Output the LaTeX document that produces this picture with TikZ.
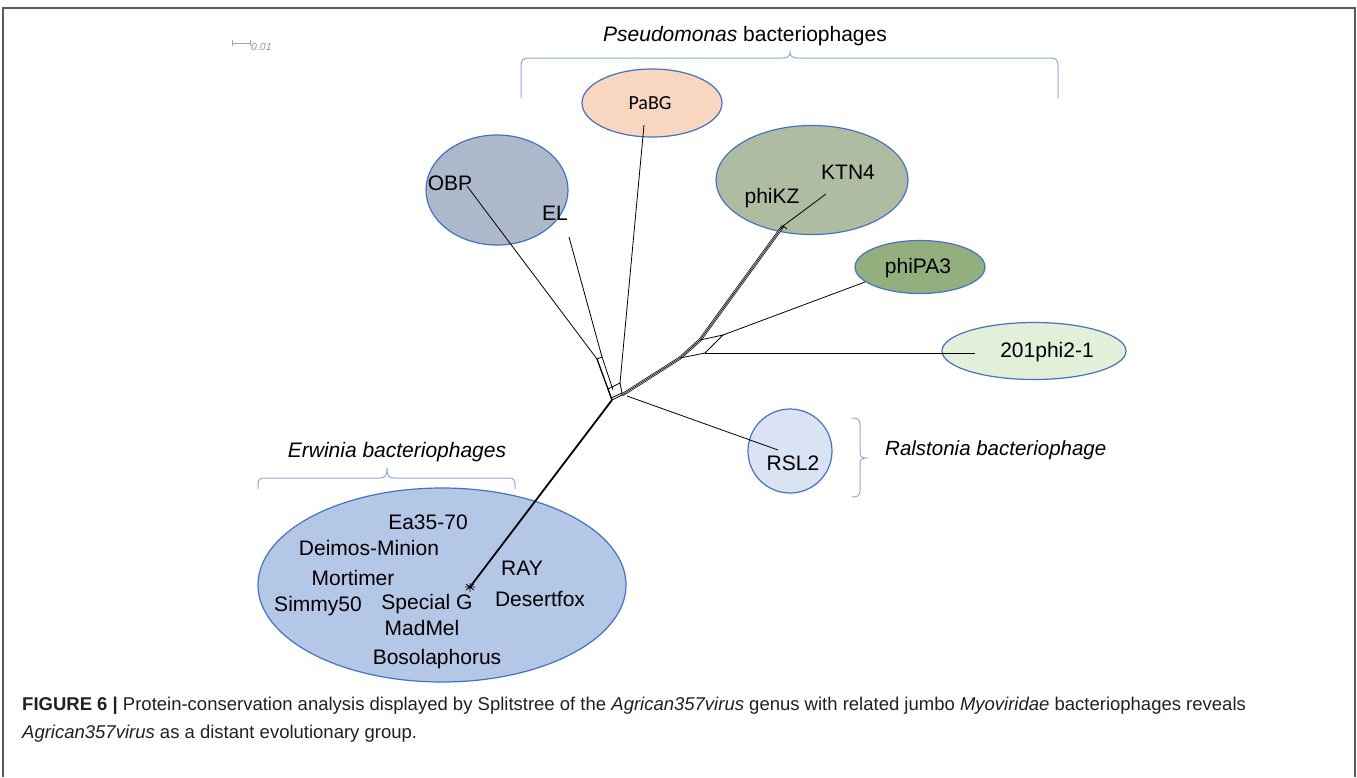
\documentclass[tikz,border=0pt]{standalone}
\usepackage{fontspec}
\setmainfont{Liberation Sans}
\newfontfamily\calib{Carlito}
\usetikzlibrary{shapes.geometric}
\definecolor{edgeblue}{HTML}{4472C4}
\definecolor{brackblue}{HTML}{8FAADC}
\definecolor{pabgfill}{HTML}{F9D6BF}
\definecolor{obpfill}{HTML}{ADB9CA}
\definecolor{ktnfill}{HTML}{B0BCA2}
\definecolor{pa3fill}{HTML}{94AF7E}
\definecolor{phitwofill}{HTML}{E2F0D9}
\definecolor{rslfill}{HTML}{DAE3F3}
\definecolor{erwfill}{HTML}{B4C7E7}
\definecolor{framegray}{HTML}{5A5A5A}
\definecolor{captext}{HTML}{231F20}
\begin{document}
\begin{tikzpicture}[x=1pt,y=-1pt,
  grp/.style={ellipse, draw=edgeblue, line width=1.2pt, inner sep=0pt},
  lab/.style={font=\fontsize{21}{25}\selectfont, inner sep=0pt},
  brk/.style={draw=brackblue, line width=1pt},
  net/.style={line width=0.8pt, black},
  captionline/.style={font=\fontsize{18.5}{22}\selectfont, text=captext, inner sep=0pt, anchor=base west}
]
\useasboundingbox (0,0) rectangle (1357,777);
\fill[white] (0,0) rectangle (1357,777);
% frame
\draw[framegray, line width=1.6pt] (3,777) -- (3,8) -- (1355,8) -- (1355,777);

% scale bar
\draw[gray!70, line width=0.8pt] (232,40) -- (232,46) (232,43) -- (250,43) (250,40) -- (250,46);
\node[font=\fontsize{10.5}{12}\selectfont\itshape, text=gray!80, anchor=west, inner sep=0pt] (scale) at (251,47) {0.01};

% group ellipses
\node[grp, fill=pabgfill, minimum width=140pt, minimum height=68pt] (pabg) at (652,103) {};
\node[grp, fill=obpfill, minimum width=142pt, minimum height=110pt] (obp) at (497,190) {};
\node[grp, fill=ktnfill, minimum width=192pt, minimum height=109pt] (ktn) at (812,180) {};
\node[grp, fill=pa3fill, minimum width=130pt, minimum height=53pt] (pa3) at (920,267) {};
\node[grp, fill=phitwofill, minimum width=184pt, minimum height=57pt] (phitwo) at (1034,351) {};
\node[grp, fill=rslfill, minimum width=84pt, minimum height=84pt] (rsl) at (790,451) {};
\node[grp, fill=erwfill, minimum width=368pt, minimum height=194pt] (erw) at (442,585) {};

% braces
\draw[brk] (521,98) -- (521,66) .. controls (521,60) and (523,58) .. (529,58) -- (782,58)
  .. controls (788,58) and (790,56) .. (790,52) .. controls (790,56) and (792,58) .. (798,58)
  -- (1050,58) .. controls (1056,58) and (1058,60) .. (1058,66) -- (1058,98);
\draw[brk] (258,489) -- (258,484) .. controls (258,480) and (260,478) .. (264,478) -- (380,478)
  .. controls (385,478) and (387,476) .. (387,468) .. controls (387,476) and (389,478) .. (394,478)
  -- (509,478) .. controls (513,478) and (515,480) .. (515,484) -- (515,489);
\draw[brk] (852,418) .. controls (857,418) and (860,419) .. (860,424) -- (860,452)
  .. controls (860,456) and (861,458) .. (866,458) .. controls (861,458) and (860,460) .. (860,464)
  -- (860,491) .. controls (860,496) and (857,497) .. (852,497);

% network coordinates
\coordinate (C) at (612,400);
\coordinate (E) at (470,587);
\coordinate (A1) at (597,359);
\coordinate (A2) at (602,357);
\coordinate (A3) at (613,390);
\coordinate (B1) at (608,389);
\coordinate (B2) at (620,383);
\coordinate (B3) at (622,393);
\coordinate (B4) at (611,398);
\coordinate (T0) at (622,395);
\coordinate (T1) at (783,226);
\coordinate (Q1) at (700,340);
\coordinate (Q2) at (723,335);
\coordinate (Q3) at (705,353);
\coordinate (Q4) at (680,358);
\coordinate (obpend) at (467,186);
\coordinate (elend) at (569,237);
\coordinate (pabgend) at (644,125);
\coordinate (ktnend) at (826,194);
\coordinate (pa3end) at (865,282);
\coordinate (phitwoend) at (975,353);
\coordinate (rslend) at (778,450);
\coordinate (R0) at (627,396);

% network edges
\draw[black, line width=1.8pt] (C) -- (E);
\draw[net, line width=1.3pt] (A1) -- (C);
\draw[net] (A2) -- (A3);
\draw[net] (A1) -- (A2);
\draw[net] (A1) -- (obpend);
\draw[net] (A2) -- (elend);
\draw[net] (B1) -- (B2) -- (B3) -- (B4) -- cycle;
\draw[net] (B2) -- (pabgend);
\draw[line width=0.7pt, double=white, double distance=1.6pt, line join=round] (T0) -- (Q4) -- (Q1) -- (T1);
\draw[line width=0.6pt, line join=round] (T0) -- (Q4) -- (Q1) -- (T1);
\draw[net] (Q1) -- (Q2) -- (Q3) -- (Q4);
\draw[net] (Q2) -- (pa3end);
\draw[net] (Q3) -- (phitwoend);
\draw[net] (T1) -- (ktnend);
\draw[net] (780,230) -- (783,226) -- (787,229);
\draw[net] (R0) -- (rslend);
\draw[net] (T0) -- (C);
% small star at Erwinia tip
\draw[line width=0.7pt] (466,584) -- (474,590) (466,590) -- (474,584) (470,583) -- (470,592) (465,587) -- (475,587);

% labels
\node[font=\fontsize{21}{25}\selectfont, inner sep=0pt] (ptitle) at (745,36) {\textit{Pseudomonas} bacteriophages};
\node[font=\fontsize{21}{25}\selectfont\itshape, inner sep=0pt] (etitle) at (397,452) {Erwinia\ bacteriophages};
\node[font=\fontsize{20.5}{24}\selectfont\itshape, inner sep=0pt, anchor=west] (rtitle) at (885,450) {Ralstonia bacteriophage};

\node[font=\calib\fontsize{20}{24}\selectfont, inner sep=0pt] (lpabg) at (650,103) {PaBG};
\node[lab] (lobp) at (450,183) {OBP};
\node[lab] (lel) at (555,213) {EL};
\node[lab] (lktn) at (848,172) {KTN4};
\node[lab] (lphikz) at (772,198) {phiKZ};
\node[lab] (lpa3) at (918,268) {phiPA3};
\node[lab] (lphitwo) at (1047,352) {201phi2-1};
\node[lab] (lrsl) at (793,463) {RSL2};
\node[lab] (lea) at (428,522) {Ea35-70};
\node[lab] (ldei) at (369,548) {Deimos-Minion};
\node[lab] (lmor) at (353,578) {Mortimer};
\node[lab] (lsim) at (318,606) {Simmy50};
\node[lab] (lspec) at (427,604) {Special G};
\node[lab] (lmad) at (422,628) {MadMel};
\node[lab] (lbos) at (437,659) {Bosolaphorus};
\node[lab] (lray) at (522,568) {RAY};
\node[lab] (ldes) at (540,599) {Desertfox};

% caption
\node[captionline] (cap1) at (22,710) {\textbf{FIGURE 6 |} Protein-conservation analysis displayed by Splitstree of the \textit{Agrican357virus} genus with related jumbo \textit{Myoviridae} bacteriophages reveals};
\node[captionline] (cap2) at (22,738) {\textit{Agrican357virus} as a distant evolutionary group.};
\end{tikzpicture}
\end{document}
